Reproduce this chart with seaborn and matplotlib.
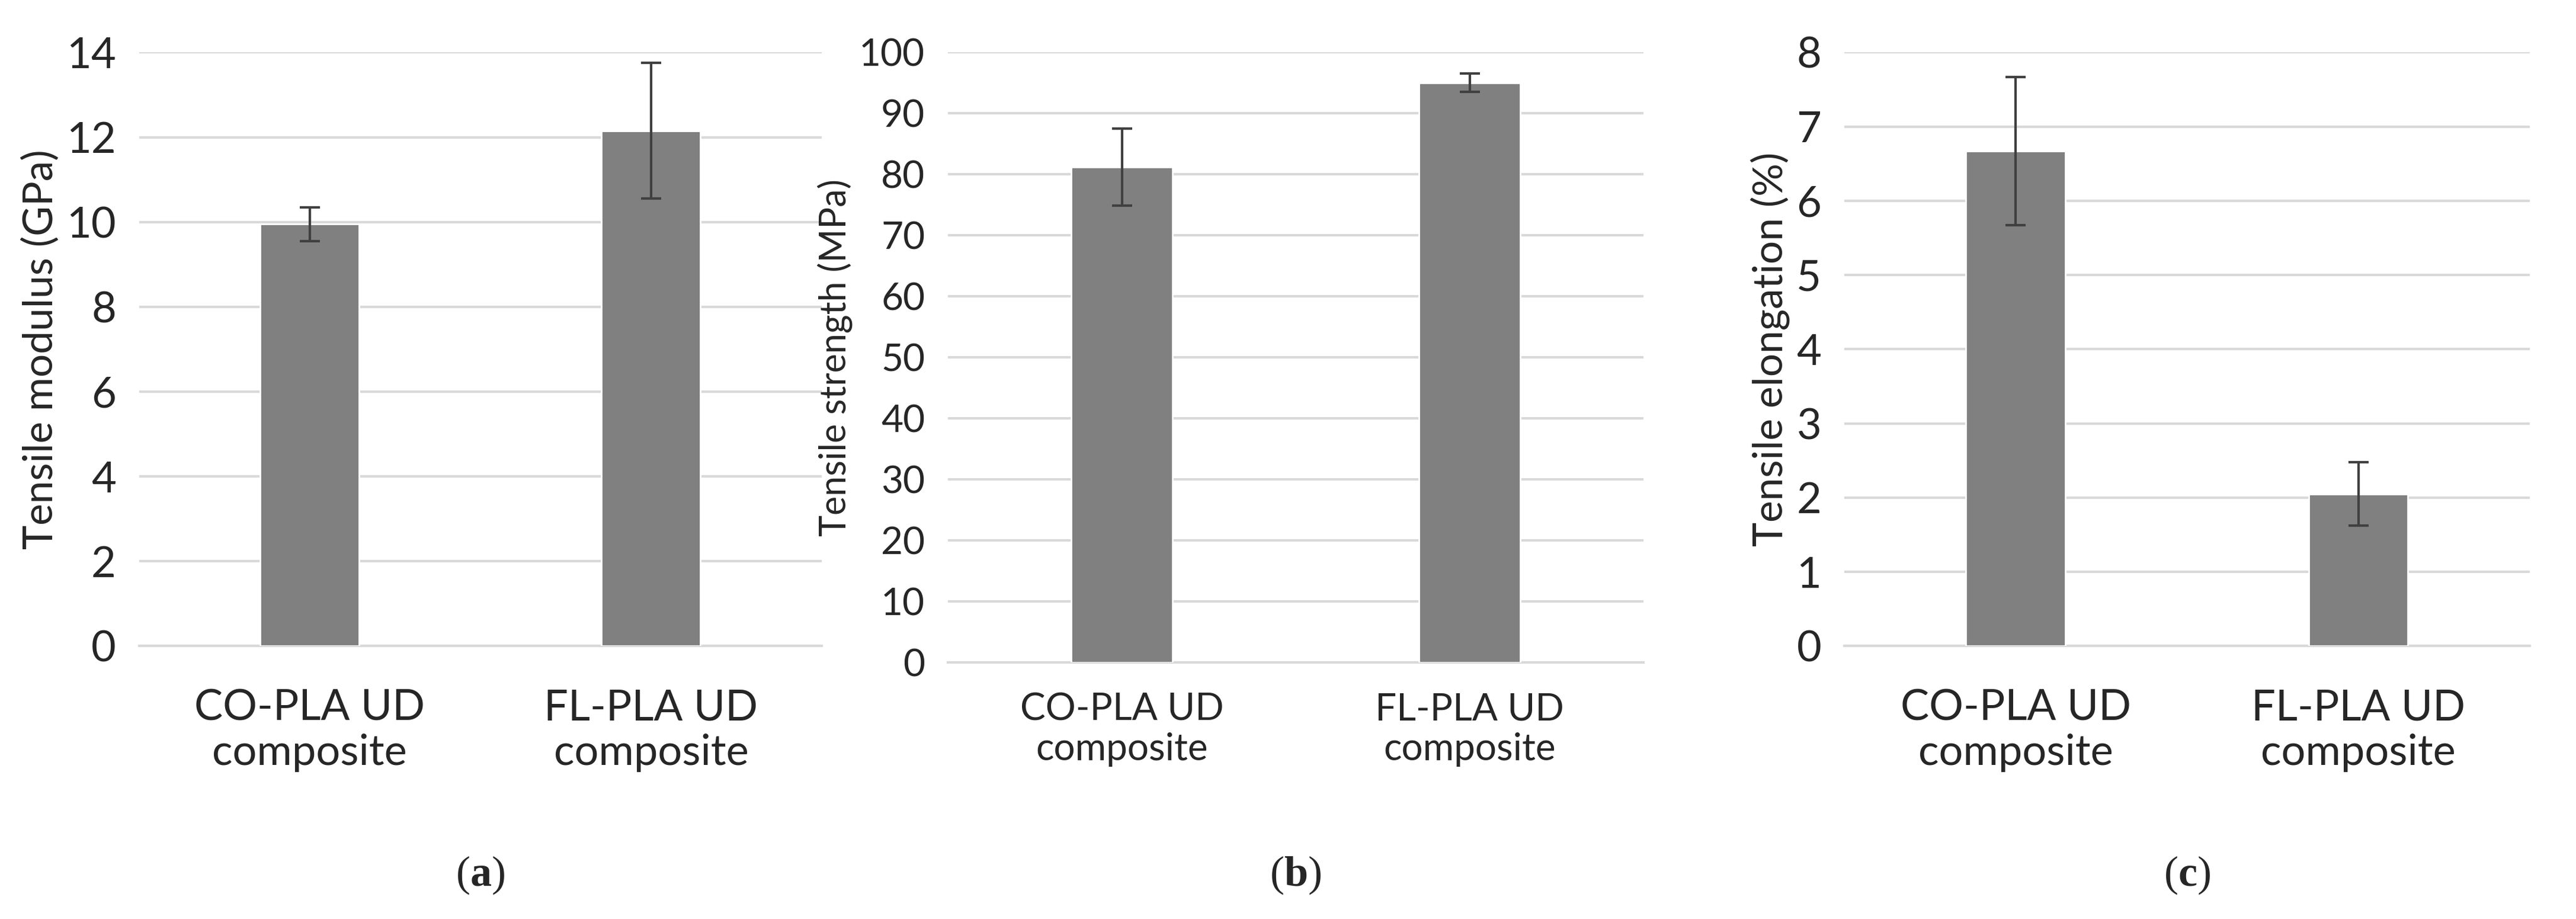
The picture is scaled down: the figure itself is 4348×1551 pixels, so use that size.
import matplotlib
matplotlib.use("Agg")
import matplotlib.pyplot as plt
import seaborn as sns
import pandas as pd

categories = ["CO-PLA UD\ncomposite", "FL-PLA UD\ncomposite"]
modulus = [9.95, 12.15]
modulus_err = [0.4, 1.6]
strength = [81.2, 95.0]
strength_err = [6.3, 1.5]
elongation = [6.67, 2.05]
elongation_err = [1.0, 0.43]

sns.set_style("white")
plt.rcParams['font.family'] = ['Lato', 'DejaVu Sans']
plt.rcParams['mathtext.fontset'] = 'custom'
plt.rcParams['mathtext.rm'] = 'Liberation Serif'
plt.rcParams['mathtext.bf'] = 'Liberation Serif:bold'

fig = plt.figure(figsize=(21.74, 7.755))

panels = [
    (modulus, modulus_err, "Tensile modulus (GPa)", 14, 2, [0.054, 0.297, 0.265, 0.646], "a", 26, 26),
    (strength, strength_err, "Tensile strength (MPa)", 100, 10, [0.368, 0.279, 0.270, 0.664], "b", 23, 18),
    (elongation, elongation_err, "Tensile elongation (%)", 8, 1, [0.716, 0.297, 0.266, 0.646], "c", 26, 26),
]

for vals, errs, ylabel, ymax, step, rect, letter, fs, xpad in panels:
    ax = fig.add_axes(rect)
    df = pd.DataFrame({"cat": categories, "val": vals})
    sns.barplot(data=df, x="cat", y="val", color="#808080", saturation=1,
                width=0.29, errorbar=None, ax=ax, zorder=3)
    ax.errorbar(range(len(vals)), vals, yerr=errs, fmt="none", ecolor="#404040",
                elinewidth=1.5, capsize=6, capthick=1.5, zorder=4)
    ax.set_ylim(0, ymax)
    ax.set_yticks(range(0, ymax + 1, step))
    ax.set_xlim(-0.5, 1.5)
    ax.yaxis.grid(True, color="#d9d9d9", linewidth=1.5, zorder=0)
    for s in ["top", "right", "left"]:
        ax.spines[s].set_visible(False)
    ax.spines["bottom"].set_color("#d9d9d9")
    ax.spines["bottom"].set_linewidth(1.5)
    ax.tick_params(axis="both", length=0, labelsize=fs)
    ax.tick_params(axis="y", pad=14)
    ax.tick_params(axis="x", pad=xpad)
    ax.set_xlabel("")
    ax.set_ylabel(ylabel, fontsize=fs - 1)
    cx = rect[0] + rect[2] / 2
    fig.text(cx, 0.025, r"$\mathrm{(}\mathbf{" + letter + r"}\mathrm{)}$",
             ha="center", va="bottom", fontsize=26)

fig.savefig("out.png", dpi=200)
